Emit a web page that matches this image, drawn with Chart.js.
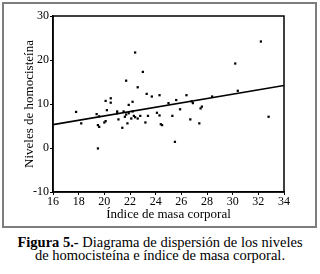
<!DOCTYPE html>
<html>
<head>
<meta charset="utf-8">
<script src="https://cdn.jsdelivr.net/npm/chart.js@4.4.1/dist/chart.umd.min.js"></script>
<style>
  html, body { margin: 0; padding: 0; background: #fff; }
  body { width: 320px; height: 274px; position: relative; overflow: hidden; }
  .frame { position: absolute; left: 2px; top: 2px; width: 311px; height: 222px; border: 2px solid #7d7d7d; }
  .wrap { position: absolute; left: 0; top: 0; width: 320px; height: 232px; }
  .caption { position: absolute; left: 0; top: 236px; width: 320px; text-align: center;
    font-family: "Liberation Serif", "Times New Roman", serif; font-size: 14.5px; line-height: 13px; color: #000; }
</style>
</head>
<body>
<div class="frame"></div>
<div class="wrap"><canvas id="chart"></canvas></div>
<div class="caption"><b>Figura 5.-</b> Diagrama de dispersión de los niveles<br>de homocisteína e índice de masa corporal.</div>
<script>
// IMC (x) y homocisteína (y)
const imc = [17.8, 18.2, 19.4, 19.6, 19.5, 19.6, 19.5, 20.0, 20.1, 20.2,
  20.1, 20.5, 20.5, 21.0, 21.1, 21.4, 21.5, 21.6, 21.7, 21.8,
  21.9, 21.9, 22.2, 21.7, 22.4, 22.6, 23.0, 23.3, 23.7, 24.3,
  22.1, 22.3, 22.4, 22.6, 22.8, 23.2, 23.4, 24.1, 24.3, 24.4,
  24.5, 25.0, 25.3, 25.5, 25.6, 25.9, 26.4, 26.7, 26.9, 27.5,
  27.6, 27.4, 28.4, 30.2, 30.4, 32.2, 32.8, 22.2, 26.8, 21.0];
const homocisteina = [8.2, 5.6, 7.7, 7.2, 5.2, 4.8, -0.1, 5.8, 6.1, 8.6,
  10.7, 11.3, 10.3, 8.3, 6.5, 4.6, 8.3, 7.1, 7.6, 5.6,
  7.9, 9.8, 10.5, 15.3, 21.7, 13.8, 17.3, 12.3, 11.7, 12.0,
  6.7, 7.3, 7.0, 6.7, 7.3, 5.8, 7.3, 8.0, 7.4, 5.4,
  5.2, 10.2, 7.3, 1.4, 10.9, 8.8, 12.0, 6.5, 10.2, 9.0,
  9.4, 5.6, 11.7, 19.2, 13.0, 24.2, 7.1, 8.3, 10.6, 7.9];
// recta de ajuste (extremos leídos)
const fitX = [16, 34];
const fitY = [5.3, 14.2];
const xTicks = [16, 18, 20, 22, 24, 26, 28, 30, 32, 34];
const yTicks = [-10, 0, 10, 20, 30];

const serif = '"Liberation Serif", "Times New Roman", serif';

const boxPlugin = {
  id: 'box',
  afterDraw(chart) {
    const a = chart.chartArea, ctx = chart.ctx;
    ctx.save();
    ctx.strokeStyle = '#000';
    ctx.lineWidth = 1.5;
    ctx.strokeRect(a.left, a.top, a.right - a.left, a.bottom - a.top);
    ctx.restore();
  }
};

new Chart(document.getElementById('chart').getContext('2d'), {
  type: 'scatter',
  data: {
    datasets: [
      {
        label: 'datos',
        data: imc.map((x, i) => ({ x, y: homocisteina[i] })),
        pointStyle: 'rect', pointRadius: 1.6, pointHoverRadius: 1.6,
        backgroundColor: '#000', borderColor: '#000', borderWidth: 0,
      },
      {
        label: 'ajuste', type: 'line',
        data: fitX.map((x, i) => ({ x, y: fitY[i] })),
        borderColor: '#000', borderWidth: 1.6, pointRadius: 0, fill: false,
      },
    ],
  },
  options: {
    responsive: true, maintainAspectRatio: false, animation: false,
    layout: { padding: { left: 22, top: 16, right: 36, bottom: 10 } },
    plugins: { legend: { display: false }, tooltip: { enabled: false } },
    scales: {
      x: {
        type: 'linear', min: 16, max: 34,
        afterBuildTicks: s => { s.ticks = xTicks.map(v => ({ value: v })); },
        afterFit: s => { s.height = 30; },
        grid: { drawOnChartArea: false, tickLength: 3, color: '#000' },
        border: { color: '#000', width: 1.5 },
        ticks: { color: '#000', font: { family: serif, size: 12 }, padding: 0, maxRotation: 0 },
        title: { display: true, text: 'Índice de masa corporal', color: '#000',
          font: { family: serif, size: 13 }, padding: { top: 0, bottom: 0 } },
      },
      y: {
        type: 'linear', min: -10, max: 30,
        afterBuildTicks: s => { s.ticks = yTicks.map(v => ({ value: v })); },
        afterFit: s => { s.width = 31; },
        grid: { drawOnChartArea: false, tickLength: 3, color: '#000' },
        border: { color: '#000', width: 1.5 },
        ticks: { color: '#000', font: { family: serif, size: 12 }, padding: 1 },
        title: { display: true, text: 'Niveles de homocisteína', color: '#000',
          font: { family: serif, size: 13 }, padding: { top: 0, bottom: 0 } },
      },
    },
  },
  plugins: [boxPlugin],
});
</script>
</body>
</html>
